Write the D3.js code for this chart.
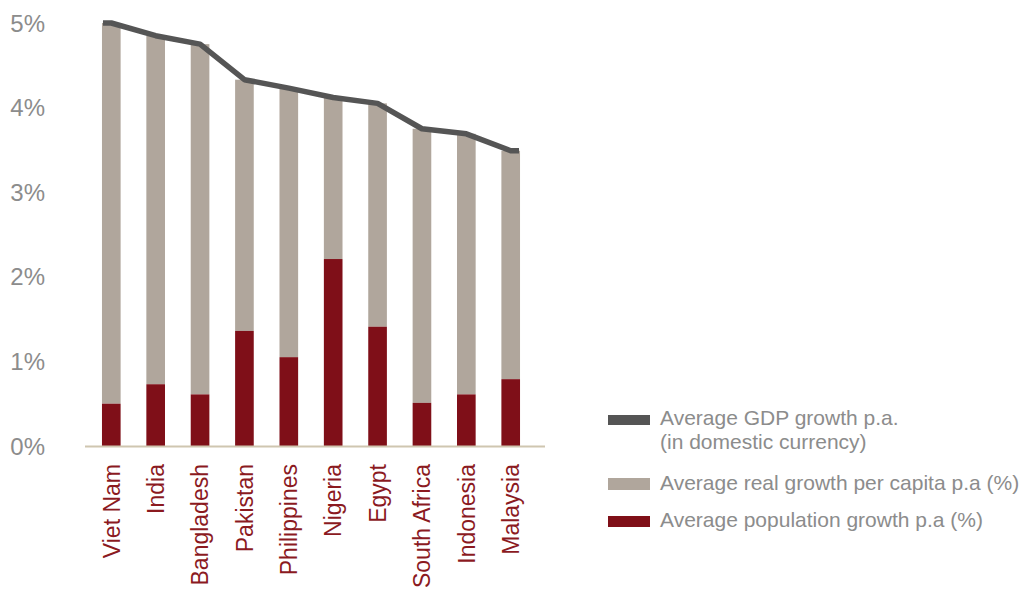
<!DOCTYPE html>
<html><head><meta charset="utf-8">
<script src="https://cdnjs.cloudflare.com/ajax/libs/d3/7.8.5/d3.min.js"></script>
<style>body{margin:0;background:#fff;} svg{display:block;font-family:"Liberation Sans",Arial,sans-serif;}</style>
</head><body>
<svg id="chart" width="1026" height="594"></svg>
<script>
const countries = ["Viet Nam","India","Bangladesh","Pakistan","Philippines","Nigeria","Egypt","South Africa","Indonesia","Malaysia"];
const gdpGrowth = [5.0,4.85,4.75,4.33,4.23,4.12,4.05,3.75,3.69,3.49];
const popGrowth = [0.5,0.73,0.61,1.36,1.05,2.21,1.41,0.51,0.61,0.79];
const yTicks = [0,1,2,3,4,5];
const legendLabels = [["Average GDP growth p.a.","(in domestic currency)"],["Average real growth per capita p.a (%)"],["Average population growth p.a (%)"]];

const colGdp = "#555555", colReal = "#b0a69c", colPop = "#7f0f18";
const svg = d3.select("#chart");
const x = d3.scaleBand().domain(countries).range([82,540]).paddingInner(0.58).paddingOuter(0.45);
const y = d3.scaleLinear().domain([0,5]).range([446,23]);

// y labels
svg.append("g").selectAll("text").data(yTicks).join("text")
  .attr("x",45).attr("y",d=>y(d)).attr("dy","0.36em").attr("text-anchor","end")
  .attr("font-size",24).attr("fill","#8c8c8c").text(d=>d+"%");

// bars
const g = svg.append("g");
g.selectAll("rect.real").data(countries).join("rect").attr("class","real")
  .attr("x",d=>x(d)).attr("width",x.bandwidth())
  .attr("y",(d,i)=>y(gdpGrowth[i])).attr("height",(d,i)=>y(popGrowth[i])-y(gdpGrowth[i]))
  .attr("fill",colReal);
g.selectAll("rect.pop").data(countries).join("rect").attr("class","pop")
  .attr("x",d=>x(d)).attr("width",x.bandwidth())
  .attr("y",(d,i)=>y(popGrowth[i])).attr("height",(d,i)=>y(0)-y(popGrowth[i]))
  .attr("fill",colPop);

// axis line
svg.append("line").attr("x1",85).attr("x2",545).attr("y1",y(0)+0.5).attr("y2",y(0)+0.5)
  .attr("stroke","#cfc6b0").attr("stroke-width",2);

// GDP line
const pts = countries.map((c,i)=>[x(c)+x.bandwidth()/2, y(gdpGrowth[i])]);
pts.unshift([x(countries[0])+1, y(gdpGrowth[0])]);
pts.push([x(countries[countries.length-1])+x.bandwidth()-1, y(gdpGrowth[gdpGrowth.length-1])]);
svg.append("path").attr("d",d3.line()(pts)).attr("fill","none")
  .attr("stroke",colGdp).attr("stroke-width",5.5).attr("stroke-linejoin","round");

// x labels
svg.append("g").selectAll("text").data(countries).join("text")
  .attr("transform",d=>`translate(${x(d)+x.bandwidth()/2},464) rotate(-90)`)
  .attr("dy","0.36em").attr("text-anchor","end").attr("font-size",23).attr("fill","#8b1a1f").text(d=>d);

// legend
const legCols = [colGdp,colReal,colPop];
const swY = [415,478,516], swH = [10,12,11];
const textY = [[425,449],[490],[527]];
legendLabels.forEach((lines,i)=>{
  svg.append("rect").attr("x",608).attr("y",swY[i]).attr("width",42).attr("height",swH[i]).attr("fill",legCols[i]);
  lines.forEach((t,j)=>{
    svg.append("text").attr("x",660).attr("y",textY[i][j]).attr("font-size",21).attr("fill","#8c8c8c").text(t);
  });
});
</script>
</body></html>
